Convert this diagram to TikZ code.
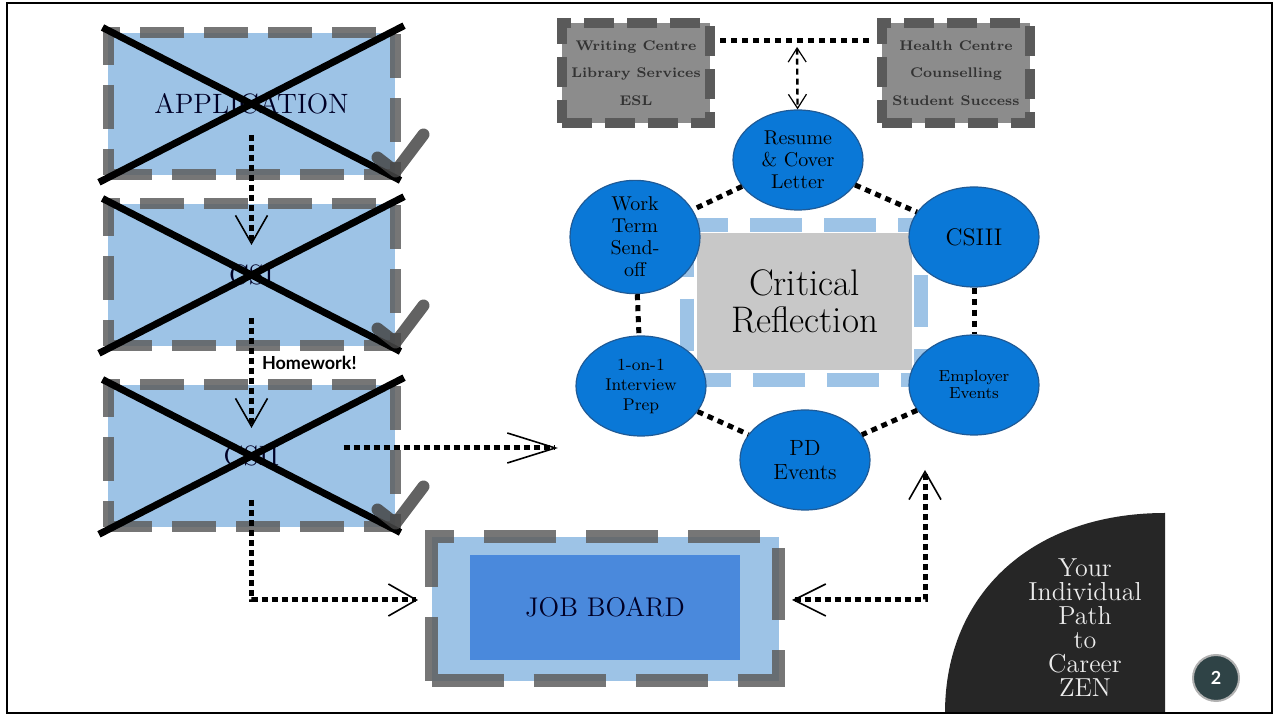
\documentclass[tikz,border=0pt]{standalone}
\usepackage{fontspec}
\newfontfamily\hwfont{Lato}
\usetikzlibrary{shapes.geometric,arrows.meta}
\definecolor{paleblue}{HTML}{9DC3E6}
\definecolor{rimgray}{HTML}{5E5E5E}
\definecolor{tickgray}{HTML}{464646}
\definecolor{svcgray}{HTML}{8C8C8C}
\definecolor{svcrim}{HTML}{5A5A5A}
\definecolor{bubbleblue}{HTML}{0A78D7}
\definecolor{bubbleedge}{HTML}{1F5A96}
\definecolor{crgray}{HTML}{C8C8C8}
\definecolor{jobblue}{HTML}{4A89DC}
\definecolor{zenblack}{HTML}{262626}
\definecolor{numgray}{HTML}{2F4346}

\begin{document}
\begin{tikzpicture}[x=0.5pt,y=-0.5pt,
  done/.style={rectangle,fill=paleblue,draw=rimgray,draw opacity=.85,line width=5.5pt,dash pattern=on 22pt off 10pt,minimum width=143.5pt,minimum height=71pt,inner sep=0pt,text=black!85!blue,font=\fontsize{14}{16}\selectfont},
  xout/.style={line width=3.5pt,shorten <=-2pt,shorten >=-2pt},
  checkmark/.style={draw=tickgray,line width=6pt,line cap=round,line join=round,opacity=.85},
  flow/.style={line width=2.5pt,dash pattern=on 3pt off 2pt,-{Straight Barb[length=14pt,width=16pt,line width=.8pt]}},
  ring/.style={line width=2.5pt,dash pattern=on 3pt off 2.5pt},
  service/.style={rectangle,fill=svcgray,draw=svcrim,line width=5pt,dash pattern=on 15pt off 6.5pt,minimum width=74pt,minimum height=50pt,inner sep=0pt,align=center,text=black!80,font=\bfseries\fontsize{7}{13.75}\selectfont},
  bubble/.style={ellipse,fill=bubbleblue,draw=bubbleedge,line width=.6pt,minimum width=65pt,minimum height=50pt,inner sep=0pt,align=center},
  crframe/.style={draw=paleblue,line width=7pt,dash pattern=on 26pt off 11pt}]
\useasboundingbox (0,0) rectangle (1276,715);

\node[done] (app) at (251.5,104) {APPLICATION};
\node[done] (csi) at (251.5,275) {CSI};
\node[done] (csii) at (251.5,456) {CSII};
\draw[xout] (app.north west) -- (app.south east) (app.south west) -- (app.north east);
\draw[xout] (csi.north west) -- (csi.south east) (csi.south west) -- (csi.north east);
\draw[xout] (csii.north west) -- (csii.south east) (csii.south west) -- (csii.north east);
\draw[checkmark] ([shift={(-23,-23)}]app.south east) -- ([shift={(-5,-9)}]app.south east) -- ([shift={(23,-46)}]app.south east);
\draw[checkmark] ([shift={(-23,-23)}]csi.south east) -- ([shift={(-5,-9)}]csi.south east) -- ([shift={(23,-46)}]csi.south east);
\draw[checkmark] ([shift={(-23,-23)}]csii.south east) -- ([shift={(-5,-9)}]csii.south east) -- ([shift={(23,-46)}]csii.south east);

\node[rectangle,fill=paleblue,draw=rimgray,draw opacity=.85,line width=6.5pt,dash pattern=on 36pt off 15pt,minimum width=173.5pt,minimum height=72pt] (job) at (605,609) {};
\node[rectangle,fill=jobblue,minimum width=135pt,minimum height=52.5pt,text=black!85!blue,font=\fontsize{13.5}{15}\selectfont] (jobtxt) at (605,607.5) {JOB BOARD};

\node[service] (wc) at (636,73) {Writing Centre\\Library Services\\ESL};
\node[service] (hc) at (956,73) {Health Centre\\Counselling\\Student Success};
\coordinate (hub) at (797,41);
\coordinate (toward) at (558,448);
\coordinate (up) at (925,470);

\node[rectangle,fill=crgray,minimum width=107.5pt,minimum height=68.5pt,align=center,font=\fontsize{18.5}{18.5}\selectfont] (cr) at (804.5,301.5) {Critical\\Reflection};
\draw[crframe] ([shift={(-10,-8)}]cr.north west) rectangle ([shift={(9,10)}]cr.south east);

\node[bubble,font=\fontsize{10}{11}\selectfont] (resume) at (798,160) {Resume\\\& Cover\\Letter};
\node[bubble,font=\fontsize{10}{11}\selectfont] (wt) at (635,237) {Work\\Term\\Send-\\off};
\node[bubble,font=\fontsize{12}{13}\selectfont] (csiii) at (974,237) {CSIII};
\node[bubble,font=\fontsize{8.5}{10}\selectfont] (onone) at (641,386) {1-on-1\\Interview\\Prep};
\node[bubble,font=\fontsize{8}{8.5}\selectfont] (emp) at (974,385) {Employer\\Events};
\node[bubble,font=\fontsize{11}{12}\selectfont] (pd) at (805,460) {PD\\Events};

\path[ring]
(resume) edge (wt)
         edge (csiii)
(wt) edge (onone)
(csiii) edge (emp)
(onone) edge (pd)
(emp) edge (pd);

\draw[flow] ([shift={(0,31)}]app.center) -- ([shift={(0,-30)}]csi.center);
\draw[flow] ([shift={(0,43)}]csi.center) -- node[pos=.41,anchor=west,inner sep=4pt,font=\hwfont\bfseries\fontsize{9}{10}\selectfont] {Homework!} ([shift={(0,-28)}]csii.center);
\draw[flow,-{Straight Barb[length=24pt,width=15pt,line width=.8pt]}] ([shift={(92,-8)}]csii.center) -- (toward);
\draw[flow] ([shift={(0,44)}]csii.center) |- ([shift={(-7,-9)}]job.west);
\draw[flow,{Straight Barb[length=16pt,width=16pt,line width=.8pt]}-{Straight Barb[length=14pt,width=16pt,line width=.8pt]}] ([shift={(7,-9)}]job.east) -| (up);
\draw[ring] ([shift={(5,-32)}]wc.east) -- ([shift={(-5,-32)}]hc.west);
\draw[line width=1.2pt,dash pattern=on 3pt off 2pt,{Straight Barb[length=7pt,width=9pt,line width=.6pt]}-{Straight Barb[length=7pt,width=9pt,line width=.6pt]},shorten <=3pt] (hub) -- (resume);

\fill[zenblack] (945,713) .. controls (945,593) and (1033,513) .. (1165,513) -- (1165,713) -- cycle;
\node[align=center,text=white!92!black,font=\fontsize{13}{12}\selectfont] (zen) at (1085,628) {Your\\Individual\\Path\\to\\Career\\ZEN};
\node[circle,fill=numgray,draw=gray!60,line width=1pt,minimum size=23pt,inner sep=0pt,text=white,font=\hwfont\bfseries\fontsize{9}{10}\selectfont] (pg) at (1216,678) {2};

\draw[line width=1.2pt] (7,3) rectangle (1272,713);
\end{tikzpicture}
\end{document}
